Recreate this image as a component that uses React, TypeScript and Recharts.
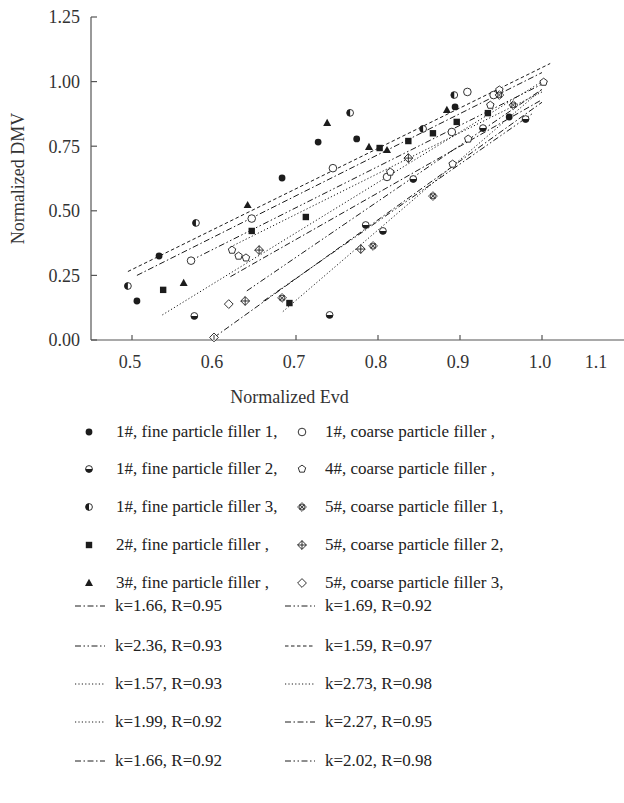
import React from "react";
import { ScatterChart, Scatter, XAxis, YAxis } from "recharts";

const FONT = '"Liberation Serif", "DejaVu Serif", serif';
const INK = "#1c1c1c";
const AXIS = "#555555";

type Pt = { x: number; y: number };

const xTicks = [0.5, 0.6, 0.7, 0.8, 0.9, 1.0, 1.1];
const yTicks = [0, 0.25, 0.5, 0.75, 1.0, 1.25];

// measured points, one array per filler
const fine1No1: Pt[] = [
  { x: 0.506, y: 0.151 }, { x: 0.533, y: 0.325 }, { x: 0.683, y: 0.627 },
  { x: 0.727, y: 0.766 }, { x: 0.774, y: 0.778 }, { x: 0.894, y: 0.902 },
  { x: 0.96, y: 0.863 },
];
const fine1No2: Pt[] = [
  { x: 0.576, y: 0.093 }, { x: 0.741, y: 0.097 }, { x: 0.785, y: 0.445 },
  { x: 0.806, y: 0.422 }, { x: 0.843, y: 0.623 }, { x: 0.928, y: 0.82 },
  { x: 0.98, y: 0.855 },
];
const fine1No3: Pt[] = [
  { x: 0.495, y: 0.209 }, { x: 0.578, y: 0.453 }, { x: 0.766, y: 0.879 },
  { x: 0.855, y: 0.817 }, { x: 0.893, y: 0.948 },
];
const fine2: Pt[] = [
  { x: 0.538, y: 0.194 }, { x: 0.646, y: 0.422 }, { x: 0.692, y: 0.143 },
  { x: 0.712, y: 0.476 }, { x: 0.802, y: 0.743 }, { x: 0.837, y: 0.77 },
  { x: 0.867, y: 0.8 }, { x: 0.896, y: 0.844 }, { x: 0.934, y: 0.878 },
];
const fine3: Pt[] = [
  { x: 0.563, y: 0.221 }, { x: 0.641, y: 0.522 }, { x: 0.738, y: 0.84 },
  { x: 0.789, y: 0.747 }, { x: 0.811, y: 0.735 }, { x: 0.884, y: 0.89 },
];
const coarse1: Pt[] = [
  { x: 0.572, y: 0.307 }, { x: 0.646, y: 0.47 }, { x: 0.745, y: 0.665 },
  { x: 0.811, y: 0.631 }, { x: 0.89, y: 0.805 }, { x: 0.909, y: 0.96 },
  { x: 0.941, y: 0.948 },
];
const coarse4: Pt[] = [
  { x: 0.622, y: 0.348 }, { x: 0.63, y: 0.325 }, { x: 0.639, y: 0.318 },
  { x: 0.815, y: 0.65 }, { x: 0.891, y: 0.681 }, { x: 0.91, y: 0.778 },
  { x: 0.937, y: 0.909 }, { x: 0.948, y: 0.968 }, { x: 1.002, y: 0.998 },
];
const coarse5No1: Pt[] = [
  { x: 0.683, y: 0.163 }, { x: 0.794, y: 0.364 }, { x: 0.867, y: 0.557 },
  { x: 0.948, y: 0.948 }, { x: 0.965, y: 0.909 },
];
const coarse5No2: Pt[] = [
  { x: 0.638, y: 0.151 }, { x: 0.655, y: 0.348 }, { x: 0.779, y: 0.352 },
  { x: 0.837, y: 0.704 },
];
const coarse5No3: Pt[] = [
  { x: 0.618, y: 0.139 }, { x: 0.6, y: 0.01 },
];

// fitted lines, endpoints
const fitK166a: Pt[] = [{ x: 0.506, y: 0.25 }, { x: 1.0, y: 1.035 }];
const fitK236: Pt[] = [{ x: 0.64, y: 0.19 }, { x: 1.0, y: 0.97 }];
const fitK157: Pt[] = [{ x: 0.62, y: 0.36 }, { x: 1.0, y: 0.96 }];
const fitK199: Pt[] = [{ x: 0.537, y: 0.097 }, { x: 1.0, y: 1.0 }];
const fitK166b: Pt[] = [{ x: 0.62, y: 0.245 }, { x: 1.0, y: 0.93 }];
const fitK169: Pt[] = [{ x: 0.57, y: 0.305 }, { x: 1.0, y: 0.99 }];
const fitK159: Pt[] = [{ x: 0.495, y: 0.265 }, { x: 1.01, y: 1.07 }];
const fitK273: Pt[] = [{ x: 0.684, y: 0.11 }, { x: 1.0, y: 0.97 }];
const fitK227: Pt[] = [{ x: 0.6, y: 0.01 }, { x: 1.0, y: 0.92 }];
const fitK202: Pt[] = [{ x: 0.66, y: 0.15 }, { x: 0.99, y: 0.88 }];

const DASH: Record<string, string> = {
  dashed: "3.5 2.5",
  dashDot: "6 2.5 1.5 2.5",
  dashDotDot: "6 2.5 1.5 2.5 1.5 2.5",
  dotted: "1.2 2.2",
};

const pointSeries = [
  { name: "1#, fine particle filler 1,", kind: "dot", data: fine1No1 },
  { name: "1#, fine particle filler 2,", kind: "halfBottom", data: fine1No2 },
  { name: "1#, fine particle filler 3,", kind: "halfLeft", data: fine1No3 },
  { name: "2#, fine particle filler ,", kind: "square", data: fine2 },
  { name: "3#, fine particle filler ,", kind: "triangle", data: fine3 },
  { name: "1#, coarse particle filler ,", kind: "ring", data: coarse1 },
  { name: "4#, coarse particle filler ,", kind: "pentagon", data: coarse4 },
  { name: "5#, coarse particle filler 1,", kind: "hatch", data: coarse5No1 },
  { name: "5#, coarse particle filler 2,", kind: "diamondCross", data: coarse5No2 },
  { name: "5#, coarse particle filler 3,", kind: "diamond", data: coarse5No3 },
];

const fitSeries = [
  { name: "k=1.66, R=0.95", style: "dashDot", data: fitK166a },
  { name: "k=2.36, R=0.93", style: "dashDotDot", data: fitK236 },
  { name: "k=1.57, R=0.93", style: "dotted", data: fitK157 },
  { name: "k=1.99, R=0.92", style: "dotted", data: fitK199 },
  { name: "k=1.66, R=0.92", style: "dashDot", data: fitK166b },
  { name: "k=1.69, R=0.92", style: "dashDotDot", data: fitK169 },
  { name: "k=1.59, R=0.97", style: "dashed", data: fitK159 },
  { name: "k=2.73, R=0.98", style: "dotted", data: fitK273 },
  { name: "k=2.27, R=0.95", style: "dashDot", data: fitK227 },
  { name: "k=2.02, R=0.98", style: "dashDotDot", data: fitK202 },
];

// legend row centres
const pointRows = [432, 469, 507, 545, 583];
const fitRows = [606, 646, 684, 722, 761];

function Mark({ kind, cx, cy }: { kind: string; cx: number; cy: number }) {
  const r = 3.4;
  const sw = 0.9;
  switch (kind) {
    case "dot":
      return <circle cx={cx} cy={cy} r={r} fill={INK} />;
    case "halfBottom":
      return (
        <g>
          <circle cx={cx} cy={cy} r={r} fill="#fff" stroke={INK} strokeWidth={sw} />
          <path d={`M${cx - r},${cy} A${r},${r} 0 0 0 ${cx + r},${cy} Z`} fill={INK} />
        </g>
      );
    case "halfLeft":
      return (
        <g>
          <circle cx={cx} cy={cy} r={r} fill="#fff" stroke={INK} strokeWidth={sw} />
          <path d={`M${cx},${cy - r} A${r},${r} 0 0 0 ${cx},${cy + r} Z`} fill={INK} />
        </g>
      );
    case "square":
      return <rect x={cx - 3.2} y={cy - 3.2} width={6.4} height={6.4} fill={INK} />;
    case "triangle":
      return <polygon points={`${cx},${cy - 4.2} ${cx - 4},${cy + 3} ${cx + 4},${cy + 3}`} fill={INK} />;
    case "ring":
      return <circle cx={cx} cy={cy} r={r + 0.4} fill="#fff" stroke={INK} strokeWidth={sw} />;
    case "pentagon": {
      const pts = [0, 1, 2, 3, 4]
        .map((i) => {
          const a = -Math.PI / 2 + (i * 2 * Math.PI) / 5;
          return `${cx + 3.9 * Math.cos(a)},${cy + 3.9 * Math.sin(a)}`;
        })
        .join(" ");
      return <polygon points={pts} fill="#fff" stroke={INK} strokeWidth={sw} />;
    }
    case "hatch":
      return (
        <g stroke={INK} strokeWidth={0.8} fill="none">
          <polygon points={`${cx},${cy - 4.4} ${cx + 4.4},${cy} ${cx},${cy + 4.4} ${cx - 4.4},${cy}`} fill="#fff" />
          <rect x={cx - 2.2} y={cy - 2.2} width={4.4} height={4.4} />
          <line x1={cx - 2.2} y1={cy - 2.2} x2={cx + 2.2} y2={cy + 2.2} />
          <line x1={cx + 2.2} y1={cy - 2.2} x2={cx - 2.2} y2={cy + 2.2} />
        </g>
      );
    case "diamondCross":
      return (
        <g stroke={INK} strokeWidth={0.9} fill="none">
          <polygon points={`${cx},${cy - 4.4} ${cx + 4.4},${cy} ${cx},${cy + 4.4} ${cx - 4.4},${cy}`} fill="#fff" />
          <line x1={cx} y1={cy - 4.4} x2={cx} y2={cy + 4.4} />
          <line x1={cx - 4.4} y1={cy} x2={cx + 4.4} y2={cy} />
        </g>
      );
    default:
      return (
        <polygon
          points={`${cx},${cy - 4.4} ${cx + 4.4},${cy} ${cx},${cy + 4.4} ${cx - 4.4},${cy}`}
          fill="#fff"
          stroke={INK}
          strokeWidth={sw}
        />
      );
  }
}

function XTick(props: any) {
  const { x, y, payload } = props;
  const last = payload.value === xTicks[xTicks.length - 1];
  return (
    <g>
      {!last && <line x1={x} y1={y - 15} x2={x} y2={y - 20} stroke={AXIS} strokeWidth={1.2} />}
      <text x={last ? x - 28 : x - 2} y={y} dy="0.71em" textAnchor="middle" fontFamily={FONT} fontSize={18} fill="#333">
        {payload.value.toFixed(1)}
      </text>
    </g>
  );
}

function YTick(props: any) {
  const { x, y, payload } = props;
  return (
    <g>
      <line x1={x + 11} y1={y} x2={x + 17} y2={y} stroke={AXIS} strokeWidth={1.2} />
      <text x={x} y={y} dy="0.35em" textAnchor="end" fontFamily={FONT} fontSize={18} fill="#333">
        {payload.value.toFixed(2)}
      </text>
    </g>
  );
}

function LegendLine({ style }: { style: string }) {
  return (
    <svg width={30} height={10} style={{ display: "block" }}>
      <line x1={0} y1={5} x2={30} y2={5} stroke={INK} strokeWidth={1} strokeDasharray={DASH[style]} />
    </svg>
  );
}

function LegendMark({ kind }: { kind: string }) {
  return (
    <svg width={14} height={14} style={{ display: "block" }}>
      <Mark kind={kind} cx={7} cy={7} />
    </svg>
  );
}

const cell = (left: number, top: number): React.CSSProperties => ({
  position: "absolute",
  left,
  top,
  height: 0,
  display: "flex",
  alignItems: "center",
});

export default function App() {
  const fineCol = pointSeries.slice(0, 5);
  const coarseCol = pointSeries.slice(5);
  const fitLeft = fitSeries.slice(0, 5);
  const fitRight = fitSeries.slice(5);
  const txt: React.CSSProperties = { fontFamily: FONT, fontSize: 17, color: "#222", whiteSpace: "nowrap" };

  return (
    <div style={{ position: "absolute", left: 0, top: 0, width: 624, height: 803, background: "#fff" }}>
      <ScatterChart width={624} height={420} margin={{ top: 17, right: 0, bottom: 50, left: 0 }}>
        <XAxis
          type="number"
          dataKey="x"
          domain={[0.45, 1.1]}
          ticks={xTicks}
          height={30}
          tickSize={0}
          tickMargin={15}
          tick={<XTick />}
          axisLine={{ stroke: AXIS, strokeWidth: 1.2 }}
          tickLine={false}
          interval={0}
          label={{
            content: ({ viewBox }: any) => (
              <text
                x={viewBox.x + viewBox.width / 2 - 68}
                y={viewBox.y + 63}
                textAnchor="middle"
                fontFamily={FONT}
                fontSize={18}
                fill="#333"
              >
                Normalized Evd
              </text>
            ),
          }}
        />
        <YAxis
          type="number"
          dataKey="y"
          domain={[0, 1.25]}
          ticks={yTicks}
          width={91}
          tickSize={0}
          tickMargin={11}
          tick={<YTick />}
          axisLine={{ stroke: AXIS, strokeWidth: 1.2 }}
          tickLine={false}
          interval={0}
          label={{
            content: ({ viewBox }: any) => (
              <text
                x={viewBox.x + 18}
                y={viewBox.y + viewBox.height / 2}
                transform={`rotate(-90 ${viewBox.x + 18} ${viewBox.y + viewBox.height / 2})`}
                textAnchor="middle"
                dominantBaseline="central"
                fontFamily={FONT}
                fontSize={18}
                fill="#333"
              >
                Normalized DMV
              </text>
            ),
          }}
        />
        {fitSeries.map((f) => (
          <Scatter
            key={f.name + f.style}
            data={f.data}
            line={{ stroke: INK, strokeWidth: 1, strokeDasharray: DASH[f.style] }}
            shape={() => <g />}
            isAnimationActive={false}
          />
        ))}
        {pointSeries.map((s) => (
          <Scatter
            key={s.name}
            data={s.data}
            shape={(p: any) => <Mark kind={s.kind} cx={p.cx} cy={p.cy} />}
            isAnimationActive={false}
          />
        ))}
      </ScatterChart>

      {fineCol.map((s, i) => (
        <React.Fragment key={s.name}>
          <div style={cell(82, pointRows[i])}><LegendMark kind={s.kind} /></div>
          <div style={{ ...cell(116, pointRows[i]), ...txt }}>{s.name}</div>
        </React.Fragment>
      ))}
      {coarseCol.map((s, i) => (
        <React.Fragment key={s.name}>
          <div style={cell(295, pointRows[i])}><LegendMark kind={s.kind} /></div>
          <div style={{ ...cell(325, pointRows[i]), ...txt }}>{s.name}</div>
        </React.Fragment>
      ))}
      {fitLeft.map((f, i) => (
        <React.Fragment key={f.name + i}>
          <div style={cell(75, fitRows[i])}><LegendLine style={f.style} /></div>
          <div style={{ ...cell(115, fitRows[i]), ...txt }}>{f.name}</div>
        </React.Fragment>
      ))}
      {fitRight.map((f, i) => (
        <React.Fragment key={f.name + i}>
          <div style={cell(285, fitRows[i])}><LegendLine style={f.style} /></div>
          <div style={{ ...cell(325, fitRows[i]), ...txt }}>{f.name}</div>
        </React.Fragment>
      ))}
    </div>
  );
}
